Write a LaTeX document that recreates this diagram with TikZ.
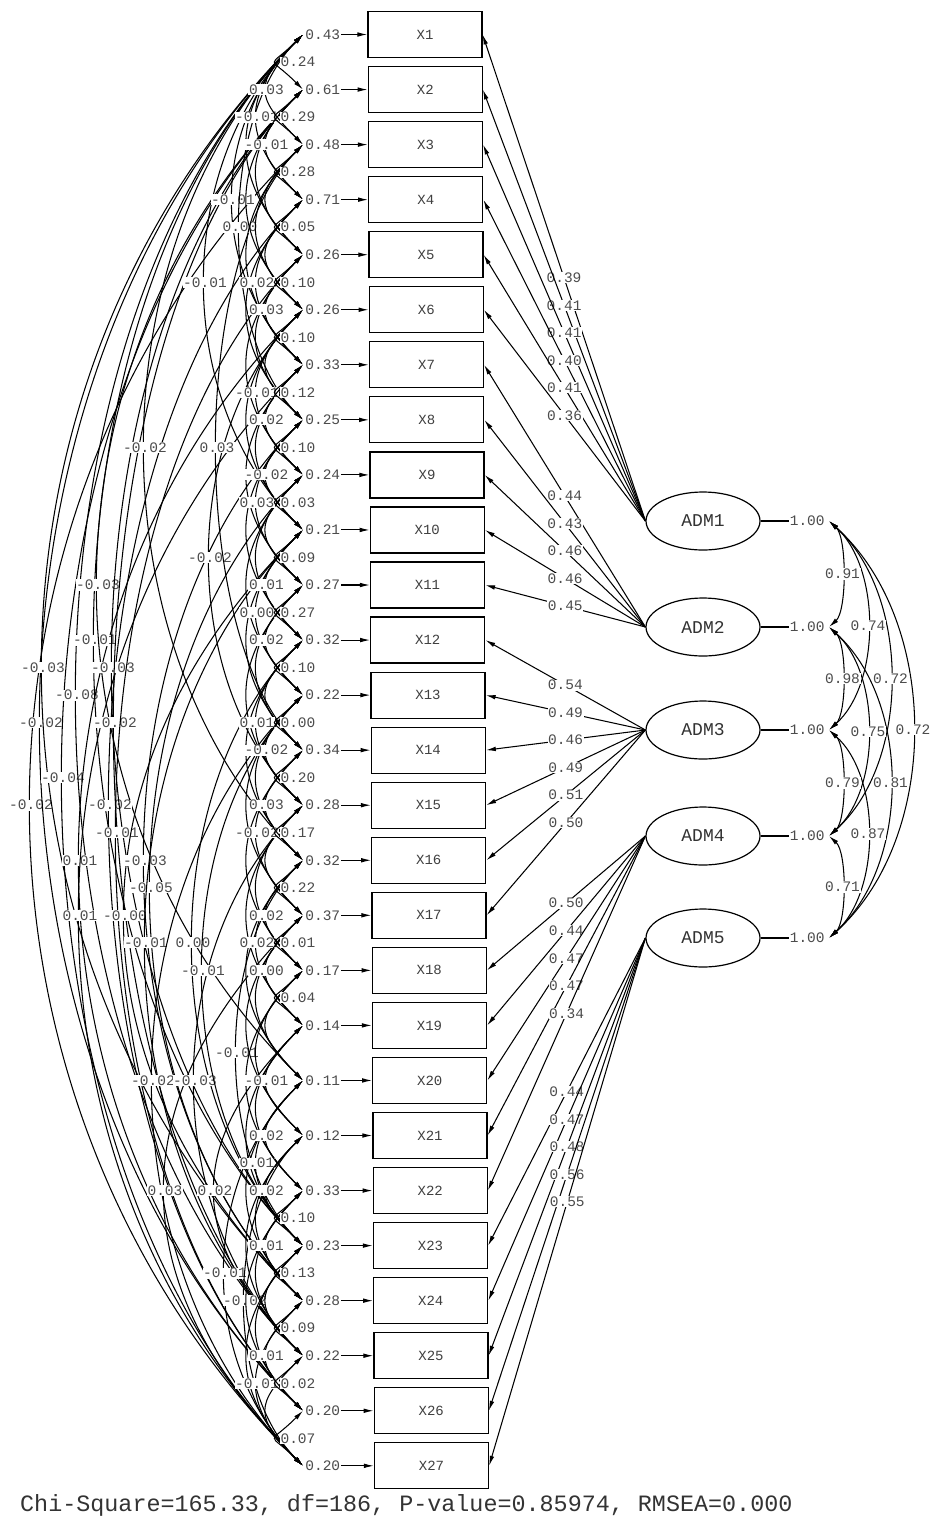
\documentclass[tikz,border=0pt]{standalone}
\usepackage{fontspec}
\setmonofont{Liberation Mono}
\usetikzlibrary{arrows.meta,calc,shapes.geometric}
\tikzset{
  ln/.style={line width=1.05pt, black},
  arr/.style={-{Latex[length=10pt,width=4.6pt]}},
  both/.style={{Latex[length=10pt,width=4.6pt]}-{Latex[length=10pt,width=4.6pt]}},
  obs/.style={draw, line width=1.2pt, minimum width=114pt, minimum height=46pt, inner sep=0pt,
    font=\ttfamily\fontsize{14}{16}\selectfont, text=black!75},
  lat/.style={ellipse, draw, line width=1.2pt, minimum width=114pt, minimum height=58pt, inner sep=0pt,
    font=\ttfamily\fontsize{18}{20}\selectfont, text=black!80},
  lbl/.style={font=\ttfamily\fontsize{14.5}{16}\selectfont, text=black!70, inner sep=0.6pt},
  wl/.style={lbl, fill=white},
}
% covariance with bulge from the span
\newcommand\ecov[3]{%
  \pgfmathsetmacro\bb{27+9.5*(#2-#1-1)}%
  \pgfmathsetmacro\cc{\bb/0.75}%
  \pgfmathsetmacro\xs{(#2-#1==1) ? 22 : 0}%
  \draw[ln, both] (e#1) .. controls +(-\cc,\cc) and +(-\cc,-\cc) .. node[wl, xshift=\xs pt]{#3} (e#2);
}
% covariance without label
\newcommand\ecovn[2]{%
  \pgfmathsetmacro\bb{27+9.5*(#2-#1-1)}%
  \pgfmathsetmacro\cc{\bb/0.75}%
  \draw[ln, both] (e#1) .. controls +(-\cc,\cc) and +(-\cc,-\cc) .. (e#2);
}
% covariance with a given bulge
\newcommand\ecovb[4]{%
  \pgfmathsetmacro\cc{#3/0.75}%
  \pgfmathsetmacro\cv{min(\cc,0.5*55.05*(#2-#1))}%
  \draw[ln, both] (e#1) .. controls +(-\cc,\cv) and +(-\cc,-\cv) .. node[wl]{#4} (e#2);
}
\begin{document}
\begin{tikzpicture}[x=1pt,y=-1pt]
\useasboundingbox (0,0) rectangle (931,1524);
\fill[white] (0,0) rectangle (931,1524);

% observed variables and error variances
\foreach \i/\v in {1/0.43,2/0.61,3/0.48,4/0.71,5/0.26,6/0.26,7/0.33,8/0.25,9/0.24,10/0.21,
  11/0.27,12/0.32,13/0.22,14/0.34,15/0.28,16/0.32,17/0.37,18/0.17,19/0.14,20/0.11,
  21/0.12,22/0.33,23/0.23,24/0.28,25/0.22,26/0.20,27/0.20}{
  \pgfmathsetmacro{\yy}{34.5+55.05*(\i-1)}
  \pgfmathsetmacro{\xx}{425+6.5*(\i-1)/26}
  \node[obs] (x\i) at (\xx,\yy) {X\i};
  \node[lbl, anchor=east] (v\i) at (341,\yy) {\v};
  \coordinate (e\i) at (303,\yy);
  \draw[ln, arr] (v\i.east) -- (x\i.west);
}

% latent variables
\foreach \k/\y in {1/521,2/627,3/730,4/836,5/938}{
  \node[lat] (a\k) at (703,\y) {ADM\k};
  \node[lbl, anchor=west] (u\k) at (789,\y) {1.00};
  \draw[ln] (a\k.east) -- (u\k.west);
  \coordinate (f\k) at (829,\y);
}

% loadings
\foreach \k/\i/\l in {1/1/0.39,1/2/0.41,1/3/0.41,1/4/0.40,1/5/0.41,1/6/0.36,
  2/7/0.44,2/8/0.43,2/9/0.46,2/10/0.46,2/11/0.45,
  3/12/0.54,3/13/0.49,3/14/0.46,3/15/0.49,3/16/0.51,3/17/0.50,
  4/18/0.50,4/19/0.44,4/20/0.47,4/21/0.47,4/22/0.34,
  5/23/0.44,5/24/0.47,5/25/0.48,5/26/0.56,5/27/0.55}{
  \draw[ln, arr] (a\k.west) -- node[wl, pos=0.5]{\l} (x\i.east);
}

% latent correlations
\foreach \a/\b/\l in {1/5/0.72,1/4/0.72,2/5/0.81,1/3/0.74,2/4/0.75,3/5/0.87,
  1/2/0.91,2/3/0.98,3/4/0.79,4/5/0.71}{
  \pgfmathsetmacro{\d}{\b-\a}
  \pgfmathsetmacro{\cx}{(\d==1) ? 18 : ((\d==2) ? 52 : ((\d==3) ? 82 : 112))}
  \draw[ln, both] (f\a) .. controls +(\cx,0.9*\cx) and +(\cx,-0.9*\cx) .. node[wl]{\l} (f\b);
}

% error covariances: long ones with their own bulge
\foreach \i/\j/\b/\l in {3/27/272/-0.02,1/26/262/-0.02,1/24/260/-0.03,2/27/240/-0.04,
  1/25/226/-0.08,6/26/223/0.01,7/27/223/0.01,1/23/208/-0.01,2/20/205/-0.03,
  4/26/193/-0.02,2/23/190/-0.03,2/25/188/-0.02,5/26/186/-0.01,10/24/178/-0.00,
  1/16/158/-0.02,8/24/158/-0.03,9/24/152/-0.05,10/25/157/-0.01,13/27/150/-0.02,
  17/27/138/0.03,12/23/110/0.00,15/25/108/-0.03,13/23/100/-0.01,1/10/98/-0.01,
  6/15/93/-0.02,19/25/88/0.02,3/14/86/0.03,20/27/78/-0.01,1/7/70/-0.01,
  16/23/66/-0.01,21/27/58/-0.02,1/8/63/0.00}{
  \ecovb{\i}{\j}{\b}{\l}
}
% short ones without label
\foreach \i/\j in {1/5,3/7,4/8,6/10,8/12,10/14,11/15,13/17,14/18,16/20,18/22,20/24,22/26,
  2/6,5/9,7/11,9/13,12/16,15/19,17/21,19/23,21/25,23/27,
  2/5,5/8,7/10,9/12,11/14,13/16,15/18,17/20,19/22,21/24,23/26,3/6,18/21,22/25,
  3/5,4/6,6/8,9/11,12/14,15/17,18/20,23/25,25/27}{
  \ecovn{\i}{\j}
}
% short ones with label
\foreach \i/\j/\l in {1/4/-0.01,4/7/0.02,6/9/-0.01,8/11/0.03,10/13/0.00,
  12/15/0.01,14/17/-0.02,16/19/0.02,20/23/0.01,24/27/-0.01,
  1/3/0.03,2/4/-0.01,5/7/0.03,7/9/0.02,8/10/-0.02,10/12/0.01,11/13/0.02,
  13/15/-0.02,14/16/0.03,16/18/0.02,17/19/0.00,19/21/-0.01,20/22/0.02,21/23/0.02,
  22/24/0.01,24/26/0.01}{
  \ecov{\i}{\j}{\l}
}
% adjacent ones
\foreach \i/\j/\l in {1/2/0.24,2/3/0.29,3/4/0.28,4/5/0.05,5/6/0.10,6/7/0.10,7/8/0.12,
  8/9/0.10,9/10/0.03,10/11/0.09,11/12/0.27,12/13/0.10,13/14/0.00,14/15/0.20,15/16/0.17,
  16/17/0.22,17/18/0.01,18/19/0.04,22/23/0.10,23/24/0.13,24/25/0.09,25/26/0.02,26/27/0.07}{
  \ecov{\i}{\j}{\l}
}

% fit statistics
\node[font=\ttfamily\fontsize{23.4}{26}\selectfont, text=black!80, anchor=west, inner sep=0pt]
  (fit) at (20,1505) {Chi-Square=165.33, df=186, P-value=0.85974, RMSEA=0.000};
\end{tikzpicture}
\end{document}
